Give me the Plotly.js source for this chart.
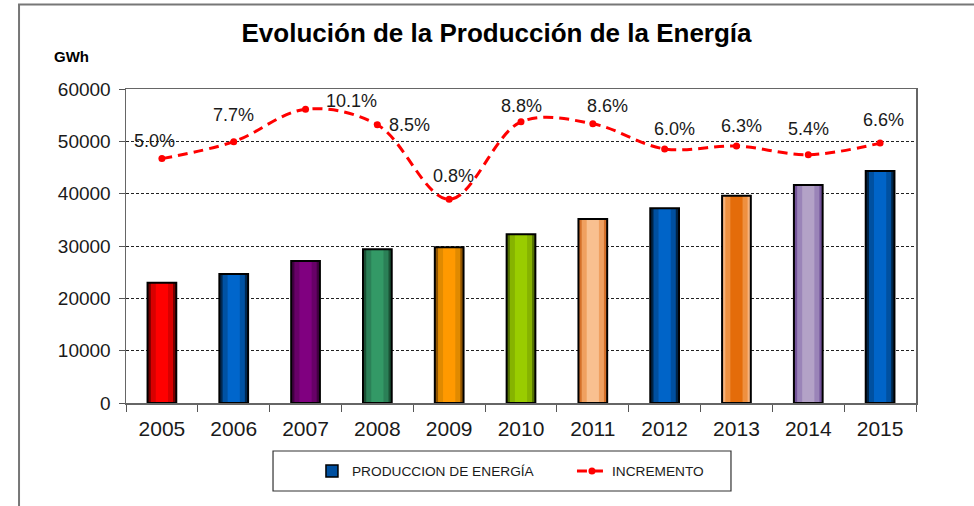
<!DOCTYPE html>
<html>
<head>
<meta charset="utf-8">
<script src="https://cdn.plot.ly/plotly-3.0.1.min.js"></script>
<style>html,body{margin:0;padding:0;background:#fff;}#chart{width:974px;height:506px;}</style>
</head>
<body>
<div id="chart"></div>
<script>
// ---- data ----
const years = ["2005","2006","2007","2008","2009","2010","2011","2012","2013","2014","2015"];
const produccion = [23000, 24650, 27130, 29370, 29750, 32240, 35160, 37200, 39620, 41660, 44330];
const incremento = [5.0, 6.75, 10.1, 8.5, 0.8, 8.8, 8.6, 6.0, 6.3, 5.4, 6.6];
const incrementoLabels = ["5.0%","7.7%","10.1%","8.5%","0.8%","8.8%","8.6%","6.0%","6.3%","5.4%","6.6%"];
const yTicks = [0, 10000, 20000, 30000, 40000, 50000, 60000];

// ---- styles ----
const edgeColors   = ["#700000","#002850","#420042","#1a5034","#905400","#527000","#d4702a","#002446","#f6b27c","#74549a","#002446"];
const midColors    = ["#d80000","#0052a3","#680068","#2b8057","#e08a00","#86b300","#f0a060","#0050a0","#ee9040","#9a84b8","#0050a0"];
const centerColors = ["#ff0000","#0066cc","#800080","#339966","#ff9900","#99cc00","#f9c090","#0064c8","#e46c0a","#b3a2c7","#0064c8"];
const labelOffsets = [[-7,-18],[0,-27],[46,-8],[32,0],[4,-23],[0,-16],[15,-18],[10,-20],[5,-20],[0,-26],[3,-23]];
const FONT = "Liberation Sans, Arial, sans-serif";

function barLayer(colors, width, line) {
  return {
    type: "bar", x: years, y: produccion, width: width,
    marker: {color: colors, line: line || {width: 0}},
    showlegend: false, hoverinfo: "skip"
  };
}

const traces = [
  barLayer(edgeColors, 0.40),
  barLayer(midColors, 0.31),
  barLayer(centerColors, 0.17),
  barLayer(years.map(() => "rgba(0,0,0,0)"), 0.40, {color: "#000", width: 2}),
  { // legend entry for production
    type: "bar", x: [null], y: [null], name: "PRODUCCION DE ENERGÍA",
    marker: {color: "#0050a0", line: {color: "#000", width: 1.5}}
  },
  {
    type: "scatter", mode: "lines+markers", x: years, y: incremento, yaxis: "y2",
    name: "INCREMENTO",
    line: {color: "#ff0000", width: 3, dash: "10px,6px", shape: "spline", smoothing: 1},
    marker: {color: "#ff0000", size: 7}
  }
];

// category index (years look numeric, so annotations use the category index)
const annotations = incrementoLabels.map((t, i) => ({
  x: years.indexOf(years[i]), y: incremento[i], xref: "x", yref: "y2", text: t, showarrow: false,
  xanchor: "center", yanchor: "middle",
  xshift: labelOffsets[i][0], yshift: -labelOffsets[i][1],
  font: {family: FONT, size: 18, color: "#1a1a1a"}
}));
annotations.push({
  x: -0.069, y: 1.105, xref: "paper", yref: "paper", xanchor: "center", yanchor: "middle",
  text: "<b>GWh</b>", showarrow: false,
  font: {family: FONT, size: 15, color: "#000"}
});

const layout = {
  width: 974, height: 506,
  margin: {l: 126, r: 58, t: 89, b: 103, pad: 0},
  paper_bgcolor: "#fff", plot_bgcolor: "#fff",
  title: {text: "<b>Evolución de la Producción de la Energía</b>", x: 0.5098, xref: "container", xanchor: "center",
          y: 0.934, yref: "container", yanchor: "middle",
          font: {family: FONT, size: 26, color: "#000"}},
  barmode: "overlay",
  xaxis: {
    type: "category", tickson: "boundaries", ticks: "outside", ticklen: 7, tickcolor: "#555",
    showline: true, linecolor: "#666", linewidth: 1.5, mirror: true, showgrid: false,
    tickfont: {family: FONT, size: 21, color: "#1a1a1a"}, range: [-0.5, 10.5], autorange: false, ticklabelstandoff: 6
  },
  yaxis: {
    range: [0, 60000], autorange: false, tickvals: yTicks, ticktext: yTicks.map(String), ticks: "outside", ticklen: 6, tickcolor: "#555",
    showline: true, linecolor: "#666", linewidth: 1.5, mirror: true,
    showgrid: true, gridcolor: "#222", gridwidth: 1, griddash: "3px,2px", zeroline: false,
    tickfont: {family: FONT, size: 19, color: "#1a1a1a"}, ticklabelstandoff: 4
  },
  yaxis2: {overlaying: "y", range: [-20.24, 12.19], autorange: false, side: "right", showgrid: false, zeroline: false,
           showline: false, ticks: "", showticklabels: false},
  showlegend: true,
  legend: {
    orientation: "h", x: 0.2354, xanchor: "left", y: -0.2166, yanchor: "middle",
    bgcolor: "rgba(0,0,0,0)", borderwidth: 0, entrywidth: 215, traceorder: "normal",
    font: {family: FONT, size: 13.7, color: "#1a1a1a"}
  },
  shapes: [
    {type: "rect", xref: "paper", yref: "paper", x0: 0.1861, x1: 0.7658, y0: -0.2803, y1: -0.1529,
     line: {color: "#333", width: 1.2}, fillcolor: "rgba(0,0,0,0)"},
    {type: "path", xref: "paper", yref: "paper",
     path: "M -0.1354 -0.33 L -0.1354 1.2691 L 1.08 1.2691", line: {color: "#777", width: 2}}
  ],
  annotations: annotations
};

Plotly.newPlot("chart", traces, layout, {displayModeBar: false, staticPlot: true});
</script>
</body>
</html>
